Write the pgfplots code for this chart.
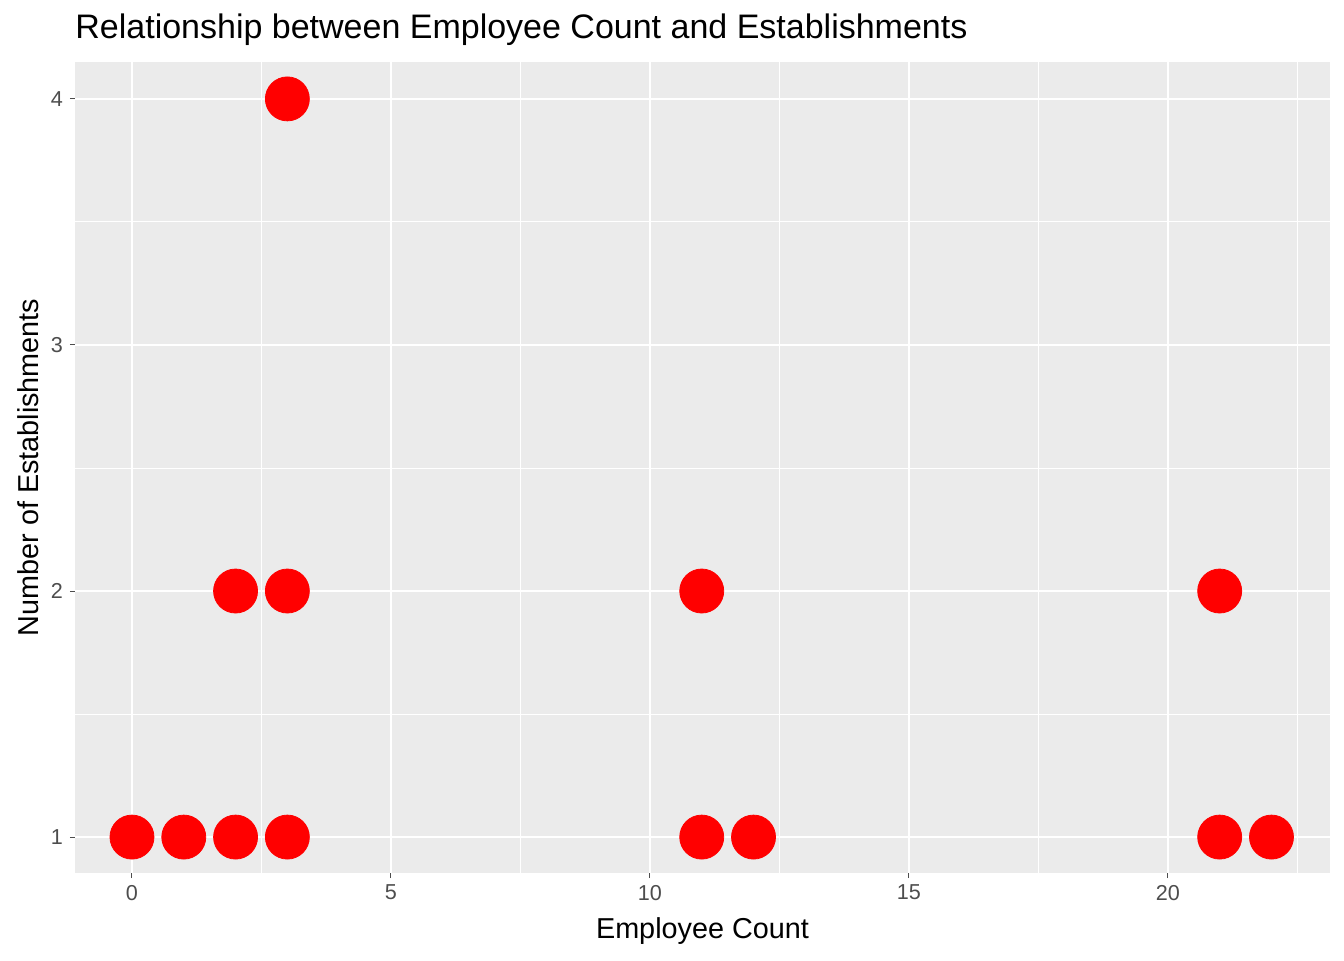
\documentclass[border=0pt]{standalone}
\usepackage{pgfplots}
\pgfplotsset{compat=1.18}
\usepackage{fontspec}
\setmainfont{Liberation Sans}
\definecolor{panel}{HTML}{EBEBEB}
\definecolor{tickc}{HTML}{4D4D4D}
\begin{document}
\begin{tikzpicture}
\useasboundingbox (0,0) rectangle (672pt,480pt);
\begin{axis}[
  at={(37.5pt,43.5pt)}, anchor=south west,
  scale only axis, width=627.5pt, height=405.5pt,
  xmin=-1.1, xmax=23.13, ymin=0.854, ymax=4.15,
  axis background/.style={fill=panel},
  axis line style={draw=none},
  xtick={0,5,10,15,20}, ytick={1,2,3,4},
  minor xtick={2.5,7.5,12.5,17.5,22.5}, minor ytick={1.5,2.5,3.5},
  grid=both,
  major grid style={white, line width=0.9pt},
  minor grid style={white, line width=0.45pt},
  tick style={tickc, line width=0.5pt},
  major tick length=2.5pt, minor tick length=0pt,
  tick align=outside, xtick pos=bottom, ytick pos=left,
  ticklabel style={font=\fontsize{10.8}{12}\selectfont, text=tickc},
  /pgf/number format/assume math mode=true,
  xlabel={Employee Count}, ylabel={Number of Establishments},
  label style={font=\fontsize{14.4}{16}\selectfont},
  xlabel style={at={(rel axis cs:0.5,-0.072)}, anchor=center},
  ylabel style={at={(rel axis cs:-0.0375,0.5)}, anchor=center},
  clip=false,
]
\addplot[only marks, mark=*, mark size=11pt, mark options={fill=red, draw=red}] coordinates {
(0,1)(1,1)(2,1)(3,1)(2,2)(3,2)(3,4)(11,1)(12,1)(11,2)(21,1)(22,1)(21,2)};
\end{axis}
\node[anchor=west, font=\fontsize{17}{19}\selectfont, inner sep=0pt] at (37.5pt,465pt) {Relationship between Employee Count and Establishments};
\end{tikzpicture}
\end{document}
